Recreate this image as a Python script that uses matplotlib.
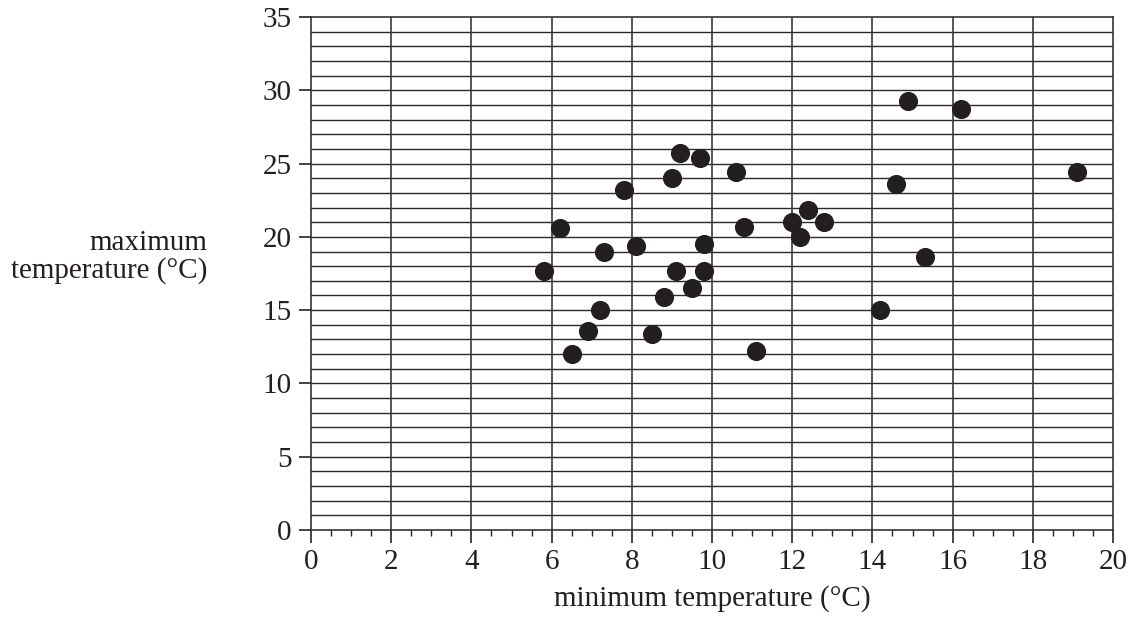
import numpy as np
import matplotlib
matplotlib.use("Agg")
from matplotlib import pyplot as plt
from matplotlib.ticker import MultipleLocator

# minimum / maximum temperature readings (deg C)
min_temp = [5.8, 6.2, 6.5, 6.9, 7.2, 7.3, 7.8, 8.1, 8.5, 8.8,
            9.0, 9.2, 9.1, 9.5, 9.7, 9.8, 9.8, 10.6, 10.8, 11.1,
            12.0, 12.2, 12.4, 12.8, 14.2, 14.6, 14.9, 15.3, 16.2, 19.1]
max_temp = [17.7, 20.6, 12.0, 13.6, 15.0, 19.0, 23.2, 19.4, 13.4, 15.9,
            24.0, 25.7, 17.7, 16.5, 25.4, 19.5, 17.7, 24.4, 20.7, 12.2,
            21.0, 20.0, 21.8, 21.0, 15.0, 23.6, 29.3, 18.6, 28.7, 24.4]

x_ticks = [0, 2, 4, 6, 8, 10, 12, 14, 16, 18, 20]
y_ticks = [0, 5, 10, 15, 20, 25, 30, 35]

plt.rcParams['font.family'] = ['Liberation Serif', 'DejaVu Serif']
plt.rcParams['font.size'] = 21

fig = plt.figure(figsize=(11.34, 6.17), dpi=100)
ax = fig.add_axes([311/1134, 1 - 530/617, 802/1134, 513/617])

ax.set_xlim(0, 20)
ax.set_ylim(0, 35)

# grid: horizontal every 1, vertical every 2
for yy in np.arange(1, 35, 1):
    ax.axhline(yy, color='#2a2a2a', lw=1.0, zorder=1)
for xx in x_ticks[1:-1]:
    ax.axvline(xx, color='#3a3a3a', lw=1.2, zorder=1)

ax.scatter(min_temp, max_temp, s=190, color='#231f20', zorder=3, linewidths=0)

ax.set_xticks(x_ticks)
ax.set_yticks(y_ticks)
ax.xaxis.set_minor_locator(MultipleLocator(0.5))
ax.tick_params(axis='both', which='major', direction='out', length=9, width=1.2,
               color='#222222', pad=5, labelcolor='#231f20')
ax.tick_params(axis='x', which='minor', direction='out', length=4.5, width=1.0,
               color='#222222')
ax.tick_params(axis='y', which='minor', left=False)

for sp in ax.spines.values():
    sp.set_linewidth(1.2)
    sp.set_color('#333333')

ax.set_xlabel('minimum temperature (°C)', labelpad=7, color='#231f20')
fig.text(207/1134, 1 - 257/617, 'maximum\ntemperature (°C)', ha='right', va='center',
         multialignment='right', linespacing=1.1, color='#231f20')

fig.savefig('out.png', dpi=100)
